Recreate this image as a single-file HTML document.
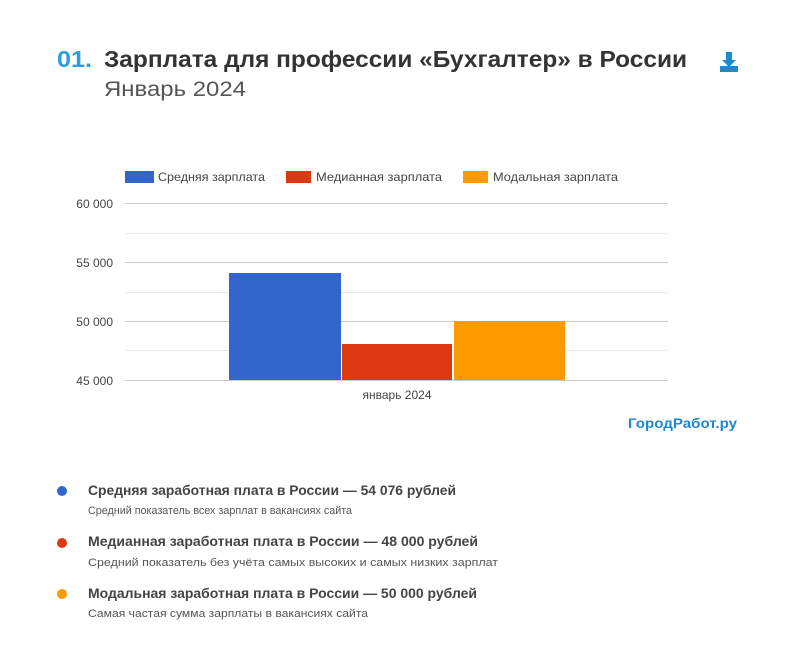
<!DOCTYPE html>
<html><head><meta charset="utf-8"><style>
html,body{margin:0;padding:0;background:#fff;}
svg{display:block;}
</style></head><body>
<svg width="800" height="646" xmlns="http://www.w3.org/2000/svg" font-family="Liberation Sans, sans-serif">
<rect width="800" height="646" fill="#fff"/>
<text x="57" y="67" font-size="23" font-weight="bold" fill="#2a9ee0" textLength="35" lengthAdjust="spacingAndGlyphs">01.</text>
<text x="104" y="67" font-size="23" font-weight="bold" fill="#333" textLength="583" lengthAdjust="spacingAndGlyphs">Зарплата для профессии «Бухгалтер» в России</text>
<text x="104" y="96" font-size="21" fill="#555" textLength="142" lengthAdjust="spacingAndGlyphs">Январь 2024</text>
<g fill="#1e88d0">
<rect x="726" y="52" width="6" height="9"/>
<polygon points="722,60 736,60 729,67"/>
<rect x="720" y="66" width="18" height="6"/>
</g>
<rect x="125" y="171" width="29" height="12" fill="#3366cc"/>
<text x="158" y="181" font-size="12" fill="#444" textLength="107" lengthAdjust="spacingAndGlyphs">Средняя зарплата</text>
<rect x="286" y="171" width="25" height="12" fill="#dc3912"/>
<text x="316" y="181" font-size="12" fill="#444" textLength="126" lengthAdjust="spacingAndGlyphs">Медианная зарплата</text>
<rect x="463" y="171" width="25" height="12" fill="#ff9900"/>
<text x="493" y="181" font-size="12" fill="#444" textLength="125" lengthAdjust="spacingAndGlyphs">Модальная зарплата</text>
<g stroke="#e8e8e8" stroke-width="1">
<line x1="125" x2="668" y1="233.5" y2="233.5"/>
<line x1="125" x2="668" y1="292.5" y2="292.5"/>
<line x1="125" x2="668" y1="350.5" y2="350.5"/>
</g>
<g stroke="#cccccc" stroke-width="1">
<line x1="125" x2="668" y1="203.5" y2="203.5"/>
<line x1="125" x2="668" y1="262.5" y2="262.5"/>
<line x1="125" x2="668" y1="321.5" y2="321.5"/>
<line x1="125" x2="668" y1="380.5" y2="380.5"/>
</g>
<g font-size="12" fill="#444" text-anchor="end">
<text x="113" y="208">60 000</text>
<text x="113" y="267">55 000</text>
<text x="113" y="326">50 000</text>
<text x="113" y="385">45 000</text>
</g>
<rect x="229" y="273" width="112" height="107" fill="#3366cc"/>
<rect x="342" y="344" width="110" height="36" fill="#dc3912"/>
<rect x="454" y="321" width="111" height="59" fill="#ff9900"/>
<text x="397" y="399" font-size="12" fill="#444" text-anchor="middle">январь 2024</text>
<text x="628" y="428" font-size="14" font-weight="bold" fill="#1e88d0" textLength="109" lengthAdjust="spacingAndGlyphs">ГородРабот.ру</text>
<circle cx="62" cy="491" r="5" fill="#3366cc"/>
<circle cx="62" cy="543" r="5" fill="#dc3912"/>
<circle cx="62" cy="594" r="5" fill="#ff9900"/>
<g font-size="13.5" font-weight="bold" fill="#444">
<text x="88" y="495" textLength="368" lengthAdjust="spacingAndGlyphs">Средняя заработная плата в России — 54 076 рублей</text>
<text x="88" y="546" textLength="390" lengthAdjust="spacingAndGlyphs">Медианная заработная плата в России — 48 000 рублей</text>
<text x="88" y="598" textLength="389" lengthAdjust="spacingAndGlyphs">Модальная заработная плата в России — 50 000 рублей</text>
</g>
<g font-size="11" fill="#555">
<text x="88" y="514" textLength="264" lengthAdjust="spacingAndGlyphs">Средний показатель всех зарплат в вакансиях сайта</text>
<text x="88" y="566" textLength="410" lengthAdjust="spacingAndGlyphs">Средний показатель без учёта самых высоких и самых низких зарплат</text>
<text x="88" y="617" textLength="280" lengthAdjust="spacingAndGlyphs">Самая частая сумма зарплаты в вакансиях сайта</text>
</g>
</svg>
</body></html>
